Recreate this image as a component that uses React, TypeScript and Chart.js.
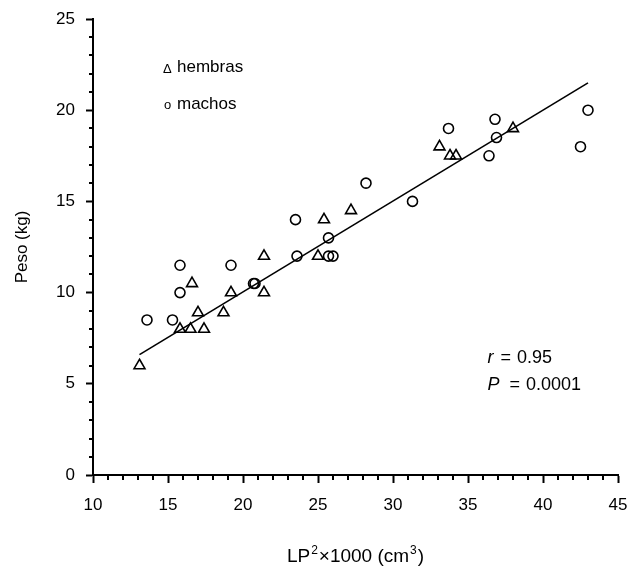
import React, { useEffect, useRef } from "react";
import { Chart, registerables } from "chart.js";

Chart.register(...registerables);

// ---- data ----
const hembrasX = [13.1, 15.8, 16.5, 17.4, 16.6, 17.0, 18.7, 19.2, 21.4, 21.4, 25.0, 25.4, 27.2, 33.1, 33.8, 34.2, 38.0];
const hembrasY = [6.0, 8.0, 8.0, 8.0, 10.5, 8.9, 8.9, 10.0, 12.0, 10.0, 12.0, 14.0, 14.5, 18.0, 17.5, 17.5, 19.0];

const machosX = [13.6, 15.3, 15.8, 15.8, 19.2, 20.7, 20.8, 23.5, 23.6, 25.7, 25.7, 26.0, 28.2, 31.3, 33.7, 36.4, 36.8, 36.9, 42.5, 43.0];
const machosY = [8.5, 8.5, 11.5, 10.0, 11.5, 10.5, 10.5, 14.0, 12.0, 13.0, 12.0, 12.0, 16.0, 15.0, 19.0, 17.5, 19.5, 18.5, 18.0, 20.0];

const fitX = [13.1, 43.0];
const fitY = [6.6, 21.5];

const xMin = 10;
const xMax = 45;
const yMin = 0;
const yMax = 25;
const majorStep = 5;

const legendLabels = ["hembras", "machos"];
const statR = "0.95";
const statP = "0.0001";
// x title pieces: [text, superscript?]
const xTitleParts: [string, boolean][] = [["LP", false], ["2", true], ["×1000 (cm", false], ["3", true], [")", false]];
const yTitle = "Peso (kg)";

const FONT = "'Liberation Sans', Arial, Helvetica, sans-serif";

const toPts = (xs: number[], ys: number[]) => xs.map((x, i) => ({ x, y: ys[i] }));

export default function App() {
  const ref = useRef<HTMLCanvasElement>(null);

  useEffect(() => {
    if (!ref.current) return;

    const extras = {
      id: "extras",
      afterDraw(chart: any) {
        const ctx = chart.ctx as CanvasRenderingContext2D;
        const xs = chart.scales.x;
        const ys = chart.scales.y;
        const left = xs.left;
        const bottom = ys.bottom;
        ctx.save();
        ctx.strokeStyle = "#000";
        ctx.lineWidth = 2;
        ctx.beginPath();
        for (let v = xMin; v <= xMax; v++) {
          if (v % majorStep === 0) continue;
          const px = Math.round(xs.getPixelForValue(v));
          ctx.moveTo(px, bottom);
          ctx.lineTo(px, bottom + 5);
        }
        for (let v = yMin; v <= yMax; v++) {
          if (v % majorStep === 0) continue;
          const py = Math.round(ys.getPixelForValue(v));
          ctx.moveTo(xs.left - 4, py);
          ctx.lineTo(xs.left, py);
        }
        ctx.stroke();

        ctx.fillStyle = "#000";
        ctx.textBaseline = "alphabetic";
        ctx.textAlign = "left";

        // legend text
        const lx = left + 84;
        const ly1 = ys.getPixelForValue(22.4) + 6;
        const ly2 = ys.getPixelForValue(20.4) + 6;
        ctx.font = `13px ${FONT}`;
        ctx.fillText("Δ", lx - 14, ly1 + 1);
        ctx.fillText("o", lx - 13, ly2);
        ctx.font = `17px ${FONT}`;
        ctx.fillText(legendLabels[0], lx, ly1);
        ctx.fillText(legendLabels[1], lx, ly2);

        // statistics
        const sx = xs.getPixelForValue(36.3);
        const sy1 = ys.getPixelForValue(6.5) + 6.5;
        const sy2 = ys.getPixelForValue(5.0) + 6.5;
        ctx.font = `italic 18px ${FONT}`;
        ctx.fillText("r", sx, sy1);
        const rw = ctx.measureText("r").width;
        ctx.fillText("P", sx, sy2);
        const pw = ctx.measureText("P").width;
        ctx.font = `18px ${FONT}`;
        const eqw = ctx.measureText("=").width;
        ctx.fillText("=", sx + rw + 7, sy1);
        ctx.fillText(statR, sx + rw + 7 + eqw + 6, sy1);
        ctx.fillText("=", sx + pw + 10, sy2);
        ctx.fillText(statP, sx + pw + 10 + eqw + 6, sy2);

        // x axis title with superscripts
        const mainF = `19px ${FONT}`;
        const supF = `12px ${FONT}`;
        let total = 0;
        const widths = xTitleParts.map(([t, sup]) => {
          ctx.font = sup ? supF : mainF;
          const w = ctx.measureText(t).width + (sup ? 2 : 0);
          total += w;
          return w;
        });
        let tx = (xs.left + xs.right) / 2 - total / 2;
        const tyBase = 562;
        xTitleParts.forEach(([t, sup], i) => {
          ctx.font = sup ? supF : mainF;
          ctx.fillText(t, tx + (sup ? 1 : 0), sup ? tyBase - 8 : tyBase);
          tx += widths[i];
        });
        ctx.restore();
      },
    };

    const chart = new Chart(ref.current, {
      type: "scatter",
      data: {
        datasets: [
          {
            label: legendLabels[0],
            data: toPts(hembrasX, hembrasY),
            pointStyle: "triangle",
            pointRadius: 6.3,
            borderColor: "#000",
            backgroundColor: "rgba(0,0,0,0)",
            borderWidth: 1.6,
          },
          {
            label: legendLabels[1],
            data: toPts(machosX, machosY),
            pointStyle: "circle",
            pointRadius: 5,
            borderColor: "#000",
            backgroundColor: "rgba(0,0,0,0)",
            borderWidth: 1.6,
          },
          {
            type: "line",
            label: "ajuste",
            data: toPts(fitX, fitY),
            borderColor: "#000",
            borderWidth: 1.6,
            pointRadius: 0,
            showLine: true,
            fill: false,
          } as any,
        ],
      },
      options: {
        animation: false,
        responsive: false,
        maintainAspectRatio: false,
        layout: { padding: { top: 19, right: 13, left: 0, bottom: 0 } },
        plugins: {
          legend: { display: false },
          tooltip: { enabled: false },
        },
        scales: {
          x: {
            type: "linear",
            min: xMin,
            max: xMax,
            afterFit(scale: any) {
              scale.height = 100;
              scale.paddingLeft = 0;
              scale.paddingRight = 0;
            },
            ticks: {
              stepSize: majorStep,
              color: "#000",
              font: { family: FONT, size: 17 },
              padding: 12,
              maxRotation: 0,
            },
            grid: {
              display: true,
              drawOnChartArea: false,
              drawTicks: true,
              tickLength: 8,
              tickColor: "#000",
              tickWidth: 2,
            },
            border: { display: true, color: "#000", width: 2 },
            title: { display: false },
          },
          y: {
            type: "linear",
            min: yMin,
            max: yMax,
            afterFit(scale: any) {
              scale.width = 93;
              scale.paddingTop = 0;
              scale.paddingBottom = 0;
            },
            ticks: {
              stepSize: majorStep,
              color: "#000",
              font: { family: FONT, size: 17 },
              padding: 11,
            },
            grid: {
              display: true,
              drawOnChartArea: false,
              drawTicks: true,
              tickLength: 7,
              tickColor: "#000",
              tickWidth: 2,
            },
            border: { display: true, color: "#000", width: 2 },
            title: {
              display: true,
              text: yTitle,
              color: "#000",
              font: { family: FONT, size: 17 },
              padding: { top: 12, bottom: 0 },
            },
          },
        },
      },
      plugins: [extras],
    });

    return () => chart.destroy();
  }, []);

  return (
    <div style={{ position: "absolute", left: 0, top: 0, width: 631, height: 575, background: "#fff" }}>
      <canvas ref={ref} width={631} height={575} style={{ display: "block" }} />
    </div>
  );
}
